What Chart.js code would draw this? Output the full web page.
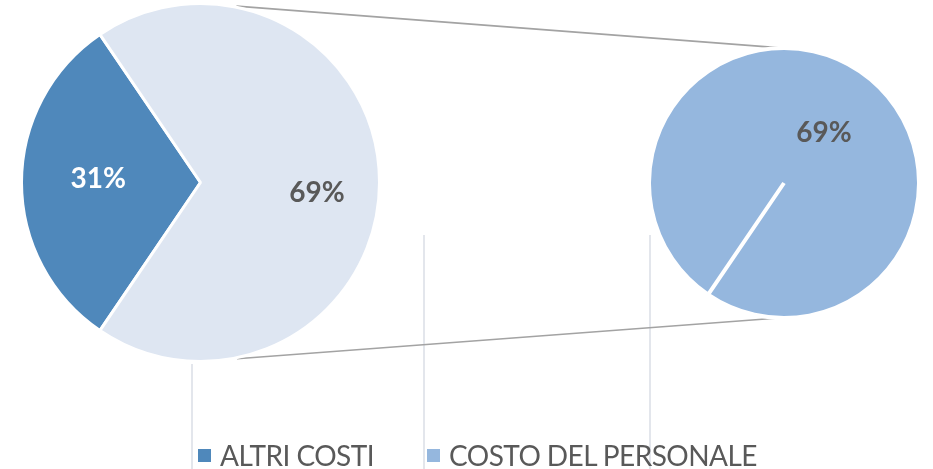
<!DOCTYPE html>
<html>
<head>
<meta charset="utf-8">
<script src="https://cdn.jsdelivr.net/npm/chart.js@4/dist/chart.umd.min.js"></script>
<style>
  html, body { margin: 0; padding: 0; background: #ffffff; overflow: hidden; }
  #stage { position: relative; width: 933px; height: 469px; font-family: Lato, "Open Sans", sans-serif; }
  #stage canvas { position: absolute; }
  #guides { left: 0; top: 0; }
  #mainPie { left: 20px; top: 2px; }
  #subPie { left: 646.5px; top: 46px; }
  #legend { position: absolute; left: 198px; top: 441px; display: flex; align-items: center; }
  .item { display: flex; align-items: center; margin-right: 53px; font-size: 28px; line-height: 28px; letter-spacing: -0.55px; color: #595959; white-space: nowrap; }
  .box { width: 13px; height: 13px; margin-right: 9px; }
</style>
</head>
<body>
<div id="stage">
  <canvas id="guides" width="933" height="469"></canvas>
  <canvas id="mainPie" width="361" height="361"></canvas>
  <canvas id="subPie" width="274" height="274"></canvas>
  <div id="legend"></div>
</div>
<script>
// Cost breakdown: main pie and the detail pie for the staff cost share
const categories = ['ALTRI COSTI', 'COSTO DEL PERSONALE'];
const mainValues = [31, 69];
const subCategories = ['COSTO DEL PERSONALE'];
const subValues = [69];

const mainColors = ['#4f88bb', '#dee6f2'];
const subColors = ['#95b7de'];
const legendColors = [mainColors[0], subColors[0]];

const total = mainValues.reduce((a, b) => a + b, 0);
const pct = v => Math.round(v / total * 100) + '%';
// Put the first slice centred on the left side of the main pie
const startRotation = 270 - mainValues[0] / total * 180;

const DEG = Math.PI / 180;

// Draws the percentage label of each slice inside the pie
const sliceLabels = {
  id: 'sliceLabels',
  afterDatasetsDraw(chart, args, opts) {
    const ctx = chart.ctx;
    const meta = chart.getDatasetMeta(0);
    const values = chart.data.datasets[0].data;
    ctx.save();
    ctx.font = 'bold 28px Lato, "Open Sans", sans-serif';
    ctx.textAlign = 'center';
    ctx.textBaseline = 'alphabetic';
    meta.data.forEach((arc, i) => {
      const p = arc.getProps(['x', 'y', 'startAngle', 'endAngle', 'outerRadius'], true);
      const mid = (p.startAngle + p.endAngle) / 2 + opts.shift[i] * DEG;
      const r = p.outerRadius * opts.radius[i];
      ctx.fillStyle = opts.colors[i];
      ctx.fillText(pct(values[i]), p.x + Math.cos(mid) * r, p.y + Math.sin(mid) * r + 10);
    });
    ctx.restore();
  }
};

const common = {
  responsive: false,
  animation: false,
  rotation: startRotation,
  layout: { padding: 0 },
  plugins: { legend: { display: false }, tooltip: { enabled: false } }
};

const mainChart = new Chart(document.getElementById('mainPie'), {
  type: 'pie',
  data: {
    labels: categories,
    datasets: [{ data: mainValues, backgroundColor: mainColors, borderColor: '#ffffff', borderWidth: 3 }]
  },
  options: Object.assign({}, common, {
    plugins: Object.assign({}, common.plugins, {
      sliceLabels: { radius: [0.572, 0.653], shift: [2.5, 4.7], colors: ['#ffffff', '#595959'] }
    })
  }),
  plugins: [sliceLabels]
});

const subChart = new Chart(document.getElementById('subPie'), {
  type: 'pie',
  data: {
    labels: subCategories,
    datasets: [{ data: subValues, backgroundColor: subColors, borderColor: '#ffffff', borderWidth: 4 }]
  },
  options: Object.assign({}, common, {
    plugins: Object.assign({}, common.plugins, {
      sliceLabels: { radius: [0.479], shift: [4.1], colors: ['#595959'] }
    })
  }),
  plugins: [sliceLabels]
});

// Pie geometry in page coordinates
function pieGeometry(chart, bw) {
  const el = chart.canvas;
  const arc = chart.getDatasetMeta(0).data[0];
  return { x: el.offsetLeft + arc.x, y: el.offsetTop + arc.y, r: arc.outerRadius - bw / 2 };
}

function drawGuides() {
  const g = document.getElementById('guides').getContext('2d');
  // faint vertical rules behind the chart
  g.strokeStyle = '#dadee6';
  g.lineWidth = 1.5;
  [[192, 364], [424, 235], [650, 235]].forEach(([x, y]) => {
    g.beginPath(); g.moveTo(x, y); g.lineTo(x, 469); g.stroke();
  });
  // connector lines between the two pies
  const L = pieGeometry(mainChart, 3);
  const R = pieGeometry(subChart, 4);
  const at = (c, ang, extra) => [c.x + Math.cos(ang * DEG) * (c.r + extra), c.y + Math.sin(ang * DEG) * (c.r + extra)];
  g.strokeStyle = '#a3a3a3';
  g.lineWidth = 1.6;
  [[-78.5, -92.7], [78.3, 93.6]].forEach(([a1, a2]) => {
    const p1 = at(L, a1, 2.5), p2 = at(R, a2, 2.5);
    g.beginPath(); g.moveTo(p1[0], p1[1]); g.lineTo(p2[0], p2[1]); g.stroke();
  });
}
drawGuides();

// Legend
const legend = document.getElementById('legend');
categories.forEach((name, i) => {
  const item = document.createElement('div');
  item.className = 'item';
  const box = document.createElement('span');
  box.className = 'box';
  box.style.background = legendColors[i];
  const label = document.createElement('span');
  label.textContent = name;
  item.appendChild(box);
  item.appendChild(label);
  legend.appendChild(item);
});
</script>
</body>
</html>
